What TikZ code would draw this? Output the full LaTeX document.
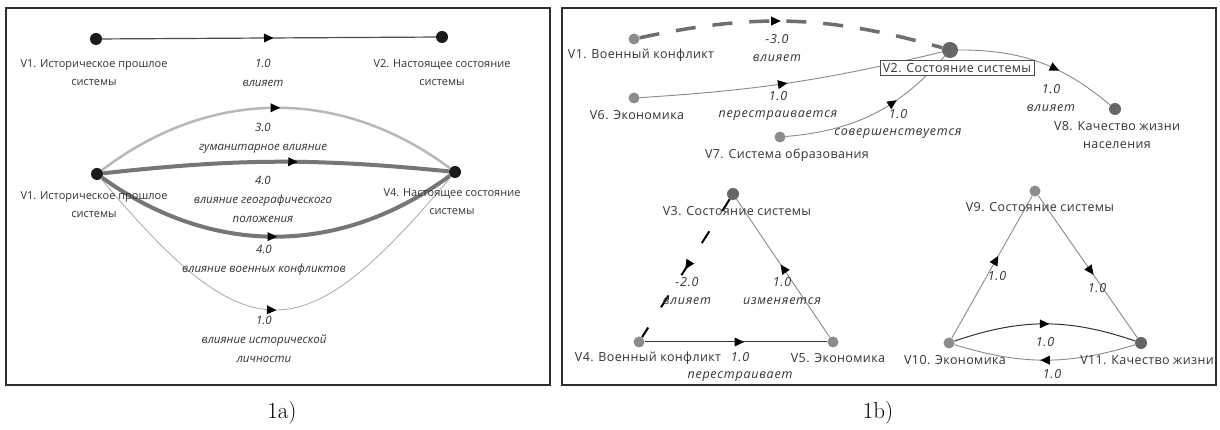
\documentclass[tikz,border=0pt]{standalone}
\usepackage{fontspec}
\newfontfamily\osans{Open Sans}
\newfontfamily\osansR[LetterSpace=3]{Open Sans}
\newfontfamily\osansI[LetterSpace=6]{Open Sans}
\usetikzlibrary{decorations.markings}
\definecolor{framec}{HTML}{2E2E2E}
\definecolor{txt}{HTML}{333333}
\definecolor{nodeL}{HTML}{1A1A1A}
\definecolor{nodeG}{HTML}{8C8C8C}
\definecolor{nodeD}{HTML}{666666}
\definecolor{arcLight}{HTML}{B8B8B8}
\definecolor{arcDark}{HTML}{767676}
\definecolor{arcThin}{HTML}{A8A8A8}
\definecolor{edgeR}{HTML}{8A8A8A}
\definecolor{dashc}{HTML}{6E6E6E}
\begin{document}
\begin{tikzpicture}[x=1pt,y=1pt,
  panel/.style={draw=framec,line width=2.2pt},
  vl/.style={circle,fill=nodeL,inner sep=0pt,minimum size=12pt},
  vg/.style={circle,fill=nodeG,inner sep=0pt,minimum size=11pt},
  vd/.style={circle,fill=nodeD,inner sep=0pt,minimum size=12pt},
  lblL/.style={font=\osans\fontsize{11}{18}\selectfont,text=txt,align=center,inner sep=0pt},
  elblL/.style={font=\osans\itshape\fontsize{11.5}{19}\selectfont,text=txt,align=center,inner sep=0pt},
  lblR/.style={font=\osansR\fontsize{12.5}{18}\selectfont,text=txt,align=center,inner sep=0pt},
  elblR/.style={font=\osansI\itshape\fontsize{12.5}{17.5}\selectfont,text=txt,align=center,inner sep=0pt},
  capt/.style={font=\fontsize{23}{25}\selectfont,inner sep=0pt},
  tipmark/.style={postaction={decorate},decoration={markings,
      mark=at position #1 with {\fill[black] (4.5pt,0pt) -- (-5pt,4.5pt) -- (-5pt,-4.5pt) -- cycle;}}},
  tipmark/.default=0.5,
  eStraight/.style={draw=black!70,line width=1.2pt},
  eArcA/.style={draw=arcLight,line width=2.5pt},
  eArcB/.style={draw=arcDark,line width=4pt},
  eArcC/.style={draw=arcThin,line width=0.8pt},
  thinR/.style={draw=edgeR,line width=0.9pt},
  darkR/.style={draw=black!80,line width=1pt},
  dashA/.style={draw=dashc,line width=3.5pt,dash pattern=on 20pt off 17pt},
  dashB/.style={draw=black,line width=2pt,dash pattern=on 14pt off 24pt},
  vbox/.style={draw=black!70,fill=white,line width=0.8pt,inner xsep=3pt,inner ysep=2.5pt,font=\osansR\fontsize{12.5}{14}\selectfont,text=txt}
]
\useasboundingbox (0,0) rectangle (1220,430);
\fill[white] (0,0) rectangle (1220,430);

% panels
\draw[panel] (6,422) rectangle (550,45);
\draw[panel] (562,422) rectangle (1216,45);

% ---------- panel 1a ----------
\node[vl] (a1) at (96,391) {};
\node[vl] (a2) at (442,393) {};
\node[vl] (b1) at (97,256) {};
\node[vl] (b4) at (455,258) {};

\draw[eStraight,tipmark] (a1) -- (a2);
\draw[eArcA,tipmark] (b1) to[bend left=37] (b4);
\draw[eArcB,tipmark=0.55] (b1) to[bend left=6] (b4);
\draw[eArcB,tipmark=0.49] (b1) to[bend right=36] (b4);
\draw[eArcC,tipmark=0.49] (b1) to[out=-50,in=-130,looseness=1.68] (b4);

\node[lblL] (la1) at (94,357) {V1. Историческое прошлое\\системы};
\node[lblL] (la2) at (442,357) {V2. Настоящее состояние\\системы};
\node[elblL] (le12) at (263,357) {1.0\\влияет};
\node[elblL] (leA) at (263,292) {3.0\\гуманитарное влияние};
\node[elblL] (leB) at (263,231) {4.0\\влияние географического\\положения};
\node[elblL] (leC) at (264,170) {4.0\\влияние военных конфликтов};
\node[elblL] (leD) at (264,91) {1.0\\влияние исторической\\личности};
\node[lblL] (lb1) at (94,225) {V1. Историческое прошлое\\системы};
\node[lblL] (lb4) at (452,228) {V4. Настоящее состояние\\системы};
\node[capt] (capa) at (282,17) {1a)};

% ---------- panel 1b ----------
\node[vg] (r1) at (634,391) {};
\node[vd,minimum size=16pt] (r2) at (950,380) {};
\node[vg] (r6) at (634,332) {};
\node[vg] (r7) at (780,293) {};
\node[vd] (r8) at (1115,321) {};
\node[vd] (r3) at (733,236) {};
\node[vg] (r4) at (639,88) {};
\node[vg] (r5) at (833,88) {};
\node[vg] (r9) at (1035,239) {};
\node[vg] (r10) at (949,87) {};
\node[vd] (r11) at (1141,87) {};

\draw[dashA,tipmark=0.45] (r1) to[bend left=14] (r2);
\draw[thinR,tipmark=0.47] (r6) to[bend right=5] (r2);
\draw[thinR,tipmark=0.62] (r7) to[bend right=22] (r2);
\draw[thinR,tipmark=0.6] (r2) to[bend left=20] (r8);
\draw[dashB,tipmark=0.48] (r3) -- (r4);
\draw[thinR,tipmark=0.5] (r5) -- (r3);
\draw[darkR,tipmark=0.52] (r4) -- (r5);
\draw[thinR,tipmark=0.55] (r10) -- (r9);
\draw[thinR,tipmark=0.53] (r9) -- (r11);
\draw[darkR,tipmark=0.5] (r10) to[bend left=19] (r11);
\draw[thinR,tipmark=0.5] (r11) to[bend left=17] (r10);

\node[lblR] (lr1) at (641,375) {V1. Военный конфликт};
\node[elblR] (le1r) at (777,382) {-3.0\\влияет};
\node[lblR] (lr6) at (637,315) {V6. Экономика};
\node[elblR] (le62) at (778,324) {1.0\\перестраивается};
\node[lblR] (lr7) at (787,275) {V7. Система образования};
\node[elblR] (le72) at (898,306) {1.0\\совершенствуется};
\node[lblR] (lr8) at (1117,295) {V8. Качество жизни\\населения};
\node[elblR] (le28) at (1051,332) {1.0\\влияет};
\node[vbox] (lr2) at (957,362) {V2. Состояние системы};

\node[lblR] (lr3) at (737,219) {V3. Состояние системы};
\node[lblR] (lr4) at (648,72) {V4. Военный конфликт};
\node[lblR] (lr5) at (838,72) {V5. Экономика};
\node[elblR] (le34) at (687,139) {-2.0\\влияет};
\node[elblR] (le53) at (782,139) {1.0\\изменяется};
\node[elblR] (le45) at (740,63) {1.0\\перестраивает};

\node[lblR] (lr9) at (1040,223) {V9. Состояние системы};
\node[lblR] (lr10) at (955,70) {V10. Экономика};
\node[lblR] (lr11) at (1147,70) {V11. Качество жизни};
\node[elblR] (le109) at (997,154) {1.0};
\node[elblR] (le911) at (1097,142) {1.0};
\node[elblR] (le1011) at (1045,88) {1.0};
\node[elblR] (le1110) at (1052,56) {1.0};
\node[capt] (capb) at (878,17) {1b)};
\end{tikzpicture}
\end{document}
